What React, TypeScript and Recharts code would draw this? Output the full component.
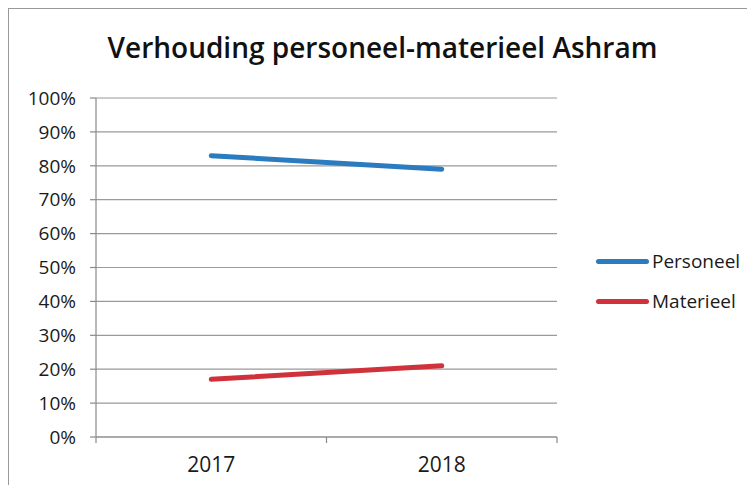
import { CartesianGrid, Legend, Line, LineChart, XAxis, YAxis } from "recharts";

const years = ["2017", "2018"];
const personeel = [83, 79];
const materieel = [17, 21];
const yTicks = [0, 10, 20, 30, 40, 50, 60, 70, 80, 90, 100];

const series = [
  { key: "Personeel", color: "#2b7bbf", values: personeel },
  { key: "Materieel", color: "#d0323c", values: materieel }
];

const data = years.map((year, i) => ({
  x: i + 0.5,
  year,
  Personeel: personeel[i],
  Materieel: materieel[i]
}));

const font = "'Open Sans', 'DejaVu Sans', sans-serif";
const axisGray = "#8a8a8a";
const textColor = "#1a1a1a";

const YearTick = (props: any) => {
  const { x, y, payload } = props;
  const v = payload.value as number;
  if (Number.isInteger(v)) {
    return <line x1={x} x2={x} y1={y - 8} y2={y - 2} stroke={axisGray} strokeWidth={1.2} />;
  }
  const label = years[Math.floor(v)];
  return (
    <text x={x} y={y + 27} textAnchor="middle" fontSize={21} fill={textColor} fontFamily={font}>
      {label}
    </text>
  );
};

const LegendBox = () => (
  <div style={{ fontFamily: font, fontSize: 19, color: textColor }}>
    {series.map((s) => (
      <div key={s.key} style={{ display: "flex", alignItems: "center", height: 26, marginBottom: 14 }}>
        <span
          style={{
            display: "inline-block",
            width: 53,
            height: 5,
            borderRadius: 3,
            background: s.color,
            marginRight: 3
          }}
        />
        <span>{s.key}</span>
      </div>
    ))}
  </div>
);

export default function App() {
  return (
    <div
      style={{
        position: "relative",
        width: 747,
        height: 477,
        borderTop: "1px solid #999",
        borderLeft: "1px solid #999",
        boxSizing: "border-box",
        background: "#fff"
      }}
    >
      <div
        style={{
          position: "absolute",
          left: 0,
          top: 24,
          width: 747,
          textAlign: "center",
          fontFamily: font,
          fontSize: 28,
          fontWeight: 600,
          lineHeight: 1,
          color: "#111"
        }}
      >
        Verhouding personeel-materieel Ashram
      </div>
      <LineChart width={747} height={477} data={data} margin={{ top: 89, right: 199, left: 0, bottom: 0 }}>
        <CartesianGrid vertical={false} stroke="#9a9a9a" strokeWidth={1.2} />
        <XAxis
          dataKey="x"
          type="number"
          domain={[0, 2]}
          ticks={[0, 0.5, 1, 1.5, 2]}
          interval={0}
          tick={<YearTick />}
          tickLine={false}
          tickSize={6}
          height={49}
          stroke={axisGray}
          axisLine={{ stroke: axisGray, strokeWidth: 1.2 }}
        />
        <YAxis
          domain={[0, 100]}
          ticks={yTicks}
          interval={0}
          width={87}
          tickSize={6}
          tickMargin={14}
          tickFormatter={(v: number) => `${v}%`}
          tick={{ fontSize: 19, fill: textColor, fontFamily: font }}
          axisLine={{ stroke: axisGray, strokeWidth: 1.2 }}
          tickLine={{ stroke: axisGray, strokeWidth: 1.2 }}
        />
        <Legend
          layout="horizontal"
          verticalAlign="middle"
          align="center"
          content={<LegendBox />}
          wrapperStyle={{ position: "absolute", left: 587, top: 239, width: 160 }}
        />
        {series.map((s) => (
          <Line
            key={s.key}
            dataKey={s.key}
            type="linear"
            stroke={s.color}
            strokeWidth={5}
            strokeLinecap="round"
            dot={false}
            activeDot={false}
            isAnimationActive={false}
          />
        ))}
      </LineChart>
    </div>
  );
}
